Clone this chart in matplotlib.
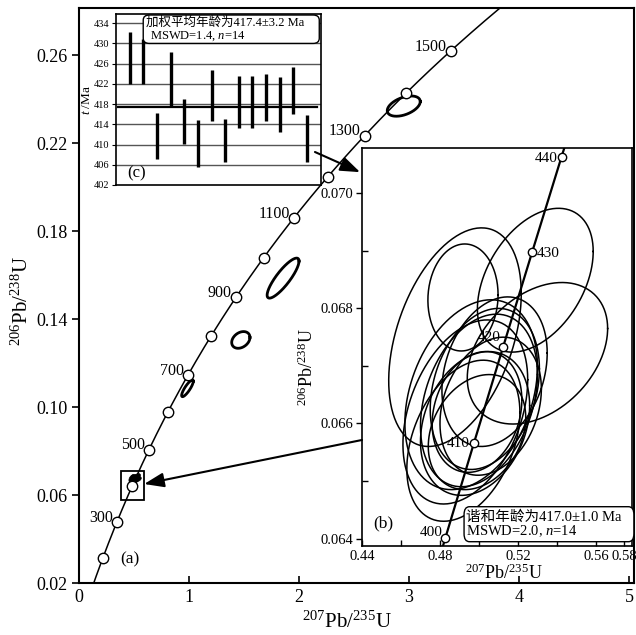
import numpy as np
import matplotlib
matplotlib.use('Agg')
import matplotlib.pyplot as plt
from matplotlib.patches import Rectangle, FancyBboxPatch, ConnectionPatch
from matplotlib.ticker import FixedLocator

plt.rcParams['font.family'] = ['Liberation Serif', 'Noto Sans CJK SC']
plt.rcParams['mathtext.fontset'] = 'custom'
plt.rcParams['mathtext.rm'] = 'Liberation Serif'
plt.rcParams['mathtext.it'] = 'Liberation Serif:italic'
plt.rcParams['mathtext.bf'] = 'Liberation Serif:bold'

# ---------------- data ----------------
# decay constants (1/yr)
L238 = 1.55125e-10
L235 = 9.8485e-10

main_marker_ages = [200, 300, 400, 500, 600, 700, 800, 900, 1000, 1100, 1200, 1300, 1400, 1500]
main_label_ages = [300, 500, 700, 900, 1100, 1300, 1500]
inset_marker_ages = [400, 410, 420, 430, 440]

# discordant analyses on main diagram
disc_x = [2.952, 1.855, 1.471, 0.986]
disc_y = [0.2368, 0.1586, 0.1305, 0.1085]
disc_sx = [0.150, 0.145, 0.083, 0.053]
disc_sy = [0.0046, 0.0091, 0.0038, 0.0038]
disc_rho = [0.45, 0.85, 0.3, 0.85]

# concordant analyses (inset b)
ell_x = [0.5289, 0.5300, 0.4918, 0.4877, 0.4960, 0.5000, 0.4980, 0.5030, 0.4990, 0.5060, 0.4930, 0.4990, 0.4920, 0.5080]
ell_y = [0.06849, 0.06722, 0.06819, 0.06750, 0.06650, 0.06640, 0.06600, 0.06660, 0.06620, 0.06630, 0.06620, 0.06585, 0.06570, 0.06690]
ell_sx = [0.0297, 0.0360, 0.0180, 0.0340, 0.0340, 0.0300, 0.0280, 0.0280, 0.0230, 0.0260, 0.0320, 0.0250, 0.0290, 0.0270]
ell_sy = [0.00125, 0.00123, 0.00093, 0.00190, 0.00165, 0.00150, 0.00125, 0.00140, 0.00105, 0.00120, 0.00160, 0.00100, 0.00140, 0.00130]
ell_rho = [0.40, 0.35, 0.05, 0.40, 0.30, 0.30, 0.25, 0.25, 0.20, 0.25, 0.35, 0.25, 0.35, 0.25]

# weighted mean (inset c)
spot_no = list(range(1, 15))
spot_age = [427.15, 426.45, 411.7, 422.9, 414.6, 410.2, 419.65, 410.75, 418.4, 418.4, 419.3, 417.9, 420.65, 411.15]
spot_err = [5.15, 4.45, 4.6, 5.4, 4.4, 4.7, 5.05, 4.25, 5.1, 5.1, 4.7, 5.4, 4.65, 4.65]
mean_age = 417.4
c_ticks = [402, 406, 410, 414, 418, 422, 426, 430, 434]

main_xticks = [0, 1, 2, 3, 4, 5]
main_yticks = [0.02, 0.06, 0.10, 0.14, 0.18, 0.22, 0.26]
b_yticks = [0.064, 0.066, 0.068, 0.070]


def concordia(t_ma):
    t = np.asarray(t_ma, dtype=float) * 1e6
    return np.exp(L235 * t) - 1, np.exp(L238 * t) - 1


def ellipse(cx, cy, sx, sy, rho, n=200):
    t = np.linspace(0, 2 * np.pi, n)
    x = cx + sx * np.cos(t)
    y = cy + sy * (rho * np.cos(t) + np.sqrt(1 - rho ** 2) * np.sin(t))
    return x, y


W, H = 636, 635
fig = plt.figure(figsize=(W / 100, H / 100), dpi=100)

def fr(l, t, r, b):
    return [l / W, 1 - b / H, (r - l) / W, (b - t) / H]

# ---------------- main axes (a) ----------------
ax = fig.add_axes(fr(79, 8, 634, 583))
ax.set_xlim(0, 5.045)
ax.set_ylim(0.02, 0.2814)
for s in ax.spines.values():
    s.set_linewidth(1.5)
cx_, cy_ = concordia(np.linspace(0, 1700, 600))
ax.plot(cx_, cy_, color='black', lw=1.1, zorder=2)
mx, my = concordia(main_marker_ages)
ax.plot(mx, my, 'o', ms=7.5, mfc='white', mec='black', mew=1.0, zorder=4)
for a in main_label_ages:
    x, y = concordia([a])
    ax.annotate(str(a), (x[0], y[0]), xytext=(-3, 3), textcoords='offset points',
                ha='right', va='center', fontsize=11.5, zorder=5)
for i in range(len(disc_x)):
    ex, ey = ellipse(disc_x[i], disc_y[i], disc_sx[i], disc_sy[i], disc_rho[i])
    ax.plot(ex, ey, color='black', lw=2.0, zorder=3)
for i in range(len(ell_x)):
    ex, ey = ellipse(ell_x[i], ell_y[i], ell_sx[i], ell_sy[i], ell_rho[i])
    ax.fill(ex, ey, color='black', lw=0.5, zorder=3)
ax.add_patch(Rectangle((0.38, 0.0577), 0.21, 0.0133, fill=False, lw=1.3, ec='black', zorder=3))
ax.set_xticks(main_xticks)
ax.set_xticklabels([str(v) for v in main_xticks])
ax.set_yticks(main_yticks)
ax.set_yticklabels(['%.2f' % v for v in main_yticks])
ax.tick_params(axis='x', direction='in', length=5, width=1.2, labelsize=13, pad=4)
ax.tick_params(axis='y', direction='out', length=5, width=1.2, labelsize=13, pad=3)
ax.set_xlabel(r'$^{207}$Pb/$^{235}$U', fontsize=15)
ax.xaxis.set_label_coords(0.483, -0.05)
ax.set_ylabel(r'$^{206}$Pb/$^{238}$U', fontsize=15)
ax.yaxis.set_label_coords(-0.083, 0.49)
ax.text(0.4636, 0.0308, '(a)', fontsize=12.5, ha='center', va='center')

# ---------------- inset (c) ----------------
axc = fig.add_axes(fr(116, 14, 320.7, 185))
axc.set_xlim(0, 15)
axc.set_ylim(402, 435.8)
for s in axc.spines.values():
    s.set_linewidth(1.2)
for v in c_ticks[1:]:
    axc.axhline(v, color='#555555', lw=1.0, zorder=1)
axc.axhline(mean_age, xmin=0.01, xmax=0.98, color='black', lw=1.6, zorder=2)
axc.errorbar(spot_no, spot_age, yerr=spot_err, fmt='none', ecolor='black', elinewidth=2.4, capsize=0, zorder=3)
axc.set_xticks([])
axc.set_yticks(c_ticks)
axc.set_yticklabels([str(v) for v in c_ticks])
axc.tick_params(axis='y', direction='out', length=3, width=0.8, labelsize=7.5, pad=1.5)
axc.set_ylabel(r'$t$ /Ma', fontsize=9.5, labelpad=1)
axc.add_patch(FancyBboxPatch((0.133, 0.828), 0.86, 0.166, boxstyle='round,pad=0,rounding_size=0.03',
                             transform=axc.transAxes, fc='white', ec='black', lw=1.0, zorder=4))
axc.text(0.147, 0.948, '加权平均年龄为417.4±3.2 Ma', transform=axc.transAxes, fontsize=9,
         ha='left', va='center', zorder=5)
axc.text(0.166, 0.872, r'MSWD=1.4, $n$=14', transform=axc.transAxes, fontsize=9,
         ha='left', va='center', zorder=5)
axc.text(0.10, 0.07, '(c)', transform=axc.transAxes, fontsize=12, ha='center', va='center', zorder=5)

# ---------------- inset (b) ----------------
axb = fig.add_axes(fr(362, 148.3, 632, 546))
axb.set_xlim(0.44, 0.5785)
axb.set_ylim(0.06387, 0.070783)
for s in axb.spines.values():
    s.set_linewidth(1.2)
for i in range(len(ell_x)):
    ex, ey = ellipse(ell_x[i], ell_y[i], ell_sx[i], ell_sy[i], ell_rho[i])
    axb.plot(ex, ey, color='black', lw=1.1, zorder=2)
bx, by = concordia(np.linspace(390, 450, 200))
axb.plot(bx, by, color='black', lw=1.6, zorder=3)
ix, iy = concordia(inset_marker_ages)
axb.plot(ix, iy, 'o', ms=6, mfc='white', mec='black', mew=1.0, zorder=4)
lab_off = {400: (-2, 4, 'right'), 410: (-3, -1, 'right'), 420: (-2, 7, 'right'),
           430: (3, -1, 'left'), 440: (-3, -1, 'right')}
for a in inset_marker_ages:
    x, y = concordia([a])
    dx, dy, ha = lab_off[a]
    axb.annotate(str(a), (x[0], y[0]), xytext=(dx, dy), textcoords='offset points',
                 ha=ha, va='center', fontsize=11, zorder=5)
axb.xaxis.set_major_locator(FixedLocator([0.44, 0.48, 0.52, 0.56, 0.5745]))
axb.set_xticklabels(['0.44', '0.48', '0.52', '0.56', '0.58'])
axb.xaxis.set_minor_locator(FixedLocator([0.46, 0.50, 0.54]))
axb.yaxis.set_major_locator(FixedLocator(b_yticks))
axb.set_yticklabels(['%.3f' % v for v in b_yticks])
axb.yaxis.set_minor_locator(FixedLocator([0.065, 0.067, 0.069]))
axb.tick_params(axis='x', which='both', direction='in', length=4, width=1.0, labelsize=10.5, pad=3)
axb.tick_params(axis='y', which='major', direction='out', length=4, width=1.0, labelsize=10.5, pad=2)
axb.tick_params(axis='y', which='minor', direction='in', length=4, width=1.0)
axb.set_xlabel(r'$^{207}$Pb/$^{235}$U', fontsize=13)
axb.xaxis.set_label_coords(0.526, -0.045)
axb.set_ylabel(r'$^{206}$Pb/$^{238}$U', fontsize=13)
axb.yaxis.set_label_coords(-0.165, 0.45)
axb.text(0.079, 0.057, '(b)', transform=axb.transAxes, fontsize=12.5, ha='center', va='center', zorder=5)
axb.add_patch(FancyBboxPatch((0.378, 0.0108), 0.629, 0.088, boxstyle='round,pad=0,rounding_size=0.02',
                             transform=axb.transAxes, fc='white', ec='black', lw=1.0, zorder=6, clip_on=False))
axb.text(0.385, 0.0737, '谐和年龄为417.0±1.0 Ma', transform=axb.transAxes, fontsize=10.5,
         ha='left', va='center', zorder=7)
axb.text(0.385, 0.036, r'MSWD=2.0, $n$=14', transform=axb.transAxes, fontsize=10.5,
         ha='left', va='center', zorder=7)

# ---------------- arrows ----------------
arr1 = ConnectionPatch(xyA=(0.972, 0.193), coordsA=axc.transAxes,
                       xyB=(-0.007, 0.94), coordsB=axb.transAxes,
                       arrowstyle='-|>,head_length=0.6,head_width=0.22', mutation_scale=20,
                       lw=1.5, color='black', zorder=10)
fig.add_artist(arr1)
arr2 = ConnectionPatch(xyA=(0.0, 0.2666), coordsA=axb.transAxes,
                       xyB=(0.592, 0.065), coordsB=ax.transData,
                       arrowstyle='-|>,head_length=0.6,head_width=0.22', mutation_scale=20,
                       lw=1.5, color='black', zorder=10)
fig.add_artist(arr2)

fig.savefig('out.png', dpi=100)
